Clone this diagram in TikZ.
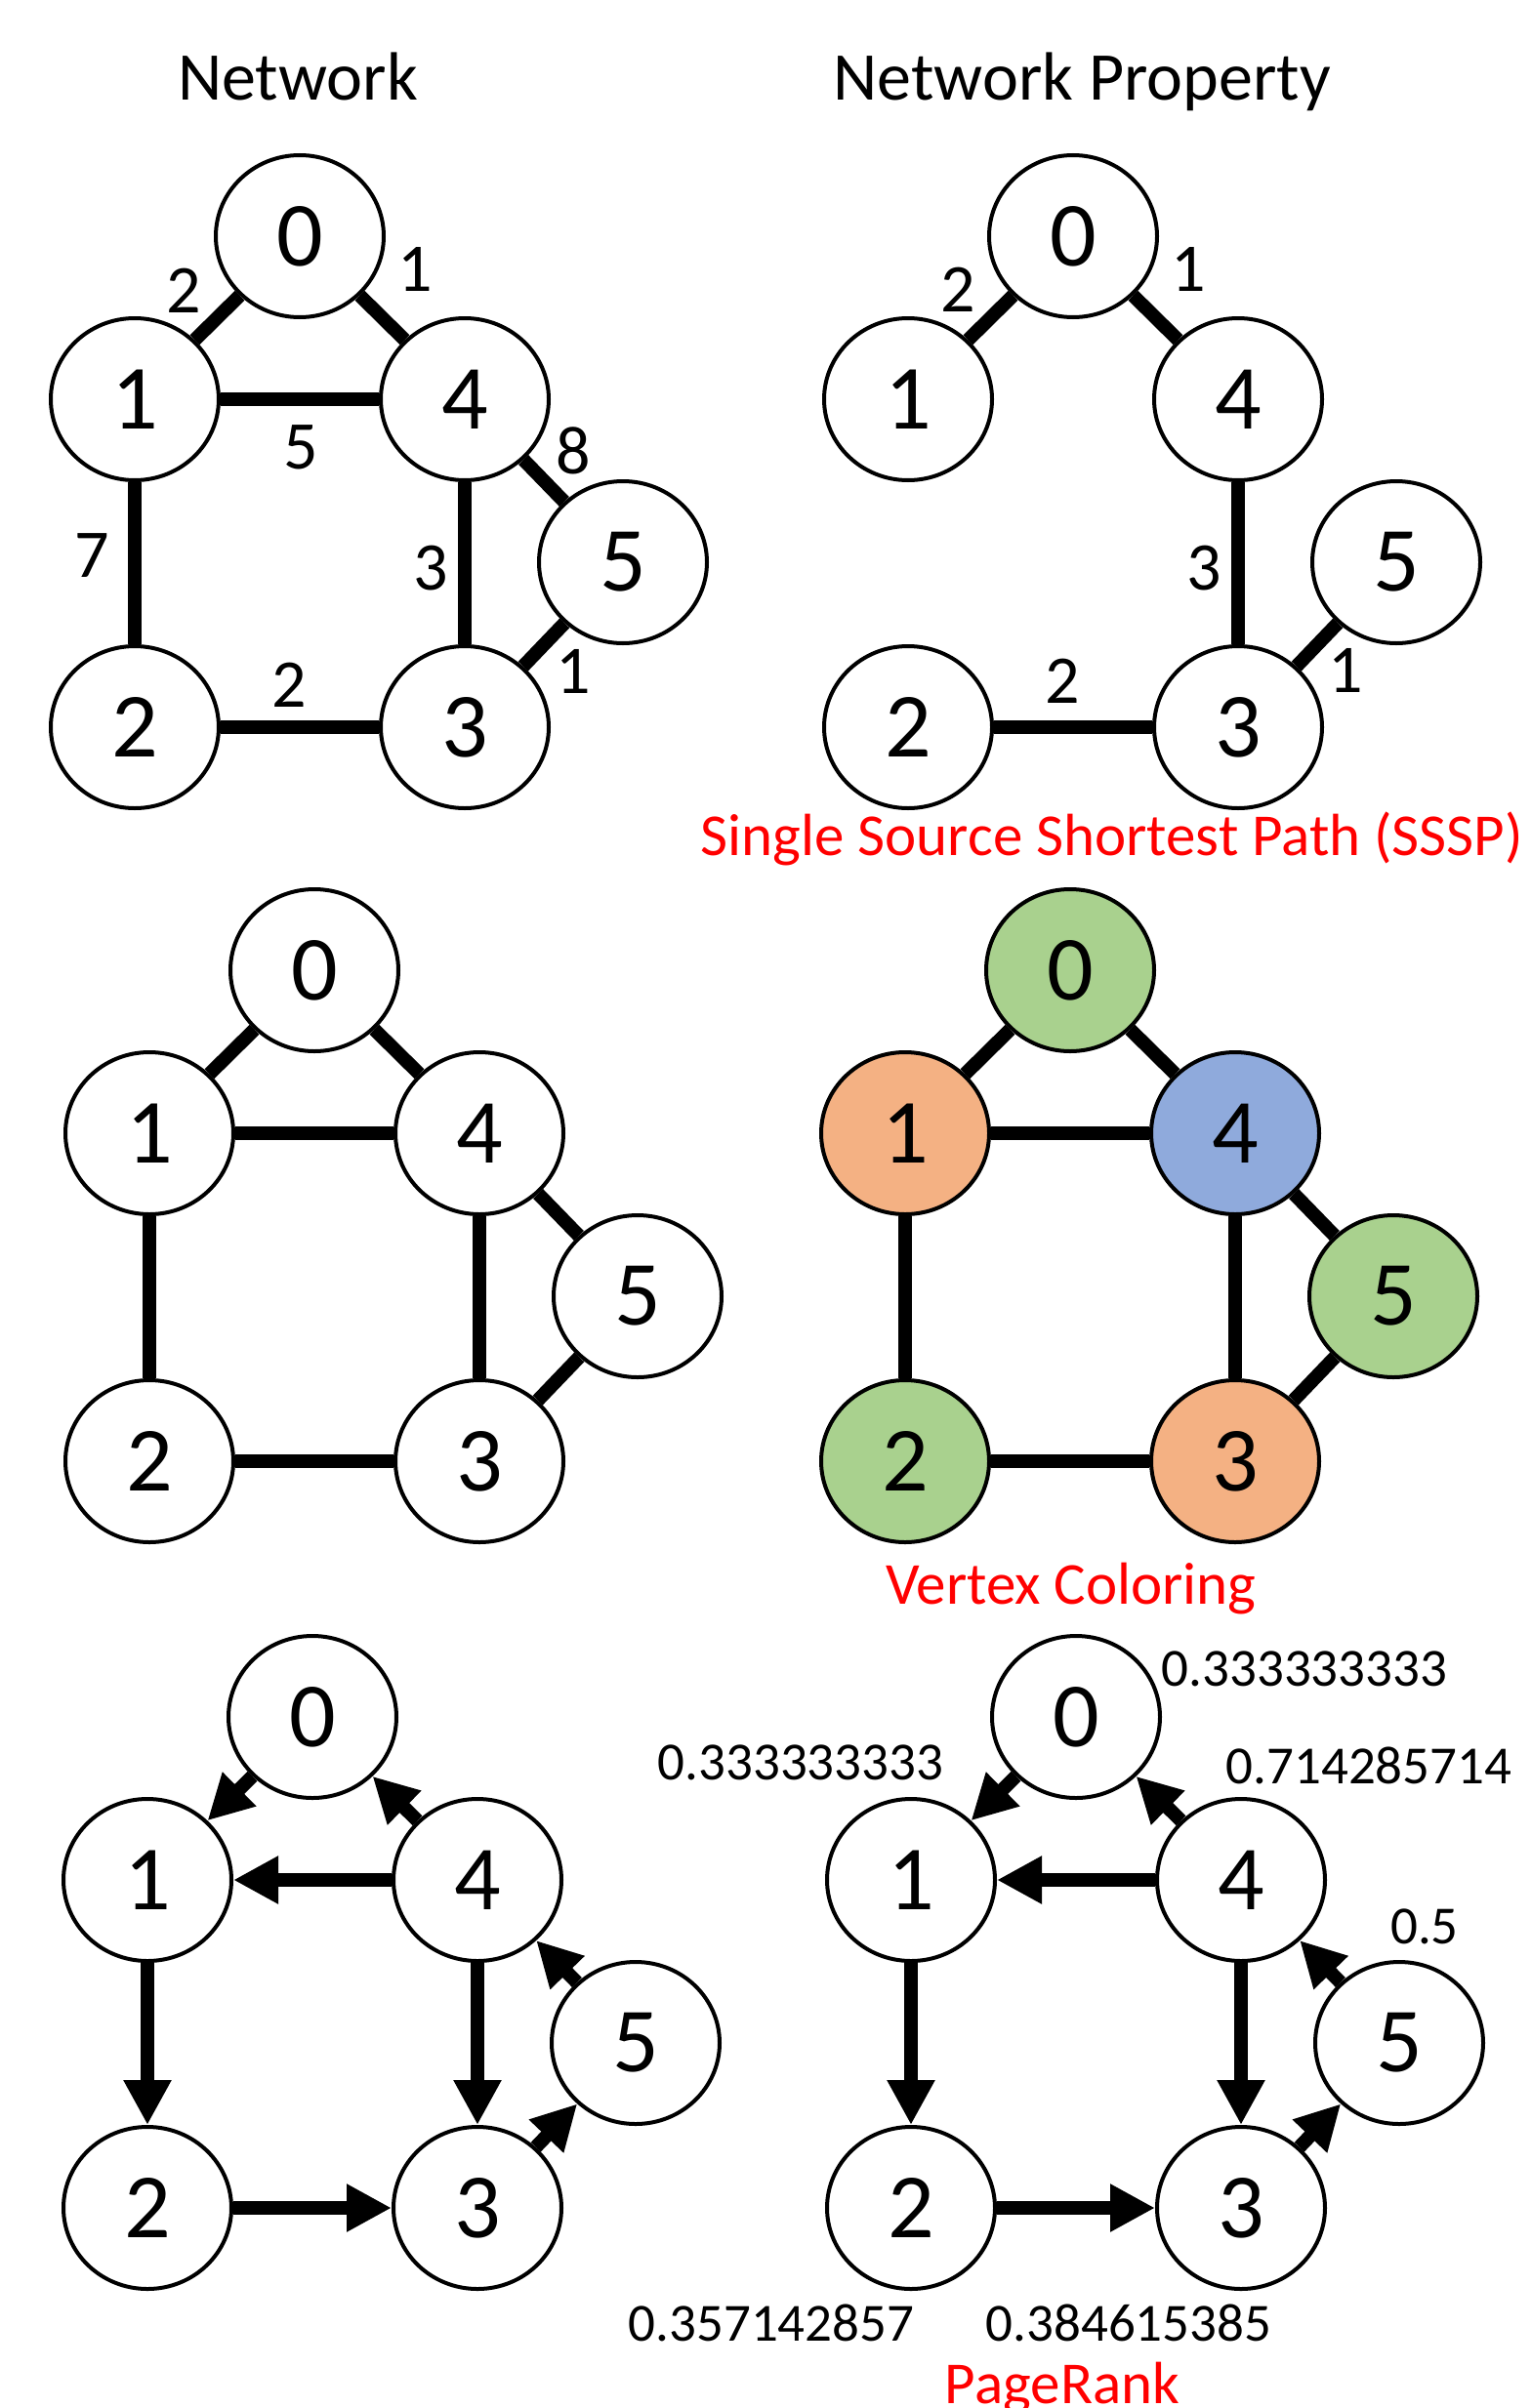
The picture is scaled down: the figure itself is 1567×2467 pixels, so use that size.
\documentclass[tikz,border=0pt]{standalone}
\usepackage{fontspec}
\setmainfont{Carlito}
\usetikzlibrary{shapes.geometric, arrows.meta, backgrounds}

\definecolor{vgreen}{HTML}{A9D18E}
\definecolor{vorange}{HTML}{F4B183}
\definecolor{vblue}{HTML}{8FAADC}
\definecolor{capred}{HTML}{FF0000}

\begin{document}
\begin{tikzpicture}[x=1pt, y=-1pt,
  vtx/.style={ellipse, draw=black, line width=4pt, fill=white,
    minimum width=172pt, minimum height=166pt, inner sep=0pt,
    font=\fontsize{94}{94}\selectfont},
  link/.style={line width=14pt},
  arc/.style={line width=14pt, -{Triangle[length=46pt, width=46pt]}},
  weight/.style={anchor=base, inner sep=0pt, font=\fontsize{70}{70}\selectfont},
  heading/.style={anchor=base, inner sep=0pt, font=\fontsize{70}{70}\selectfont},
  caption/.style={anchor=base, inner sep=0pt, text=capred, font=\fontsize{61}{61}\selectfont},
  rank/.style={anchor=base, inner sep=0pt, font=\fontsize{55}{55}\selectfont}
]
\clip (0,0) rectangle (1567,2467);
\begin{scope}[on background layer]
  \fill[white] (0,0) rectangle (1567,2467);
\end{scope}

% headings
\node[heading] (h1) at (305,103) {Network};
\node[heading] (h2) at (1108,103) {Network Property};

% ---- weighted network ----
\foreach \n/\dx/\dy in {0/169/0, 1/0/167, 4/338/167, 5/500/334, 2/0/503, 3/338/503}
  \node[vtx] (a\n) at (138+\dx, 242+\dy) {\n};
\begin{scope}[on background layer]
  \draw[link] (a0) -- (a1);
  \draw[link] (a0) -- (a4);
  \draw[link] (a1) -- (a4);
  \draw[link] (a1) -- (a2);
  \draw[link] (a4) -- (a3);
  \draw[link] (a4) -- (a5);
  \draw[link] (a5) -- (a3);
  \draw[link] (a2) -- (a3);
\end{scope}
\node[weight] (wa01) at (188,320) {2};
\node[weight] (wa04) at (425,298) {1};
\node[weight] (wa14) at (308,480) {5};
\node[weight] (wa45) at (587,485) {8};
\node[weight] (wa12) at (94,591) {7};
\node[weight] (wa43) at (441,604) {3};
\node[weight] (wa23) at (296,724) {2};
\node[weight] (wa53) at (587,710) {1};

% ---- shortest path tree ----
\foreach \n/\dx/\dy in {0/169/0, 1/0/167, 4/338/167, 5/500/334, 2/0/503, 3/338/503}
  \node[vtx] (b\n) at (930+\dx, 242+\dy) {\n};
\begin{scope}[on background layer]
  \draw[link] (b0) -- (b1);
  \draw[link] (b0) -- (b4);
  \draw[link] (b4) -- (b3);
  \draw[link] (b5) -- (b3);
  \draw[link] (b2) -- (b3);
\end{scope}
\node[weight] (wb01) at (981,319) {2};
\node[weight] (wb04) at (1217,298) {1};
\node[weight] (wb43) at (1233,604) {3};
\node[weight] (wb23) at (1088,720) {2};
\node[weight] (wb53) at (1378,709) {1};
\node[caption] (cap1) at (1139,876) {Single Source Shortest Path (SSSP)};

% ---- unweighted network ----
\foreach \n/\dx/\dy in {0/169/0, 1/0/167, 4/338/167, 5/500/334, 2/0/503, 3/338/503}
  \node[vtx] (c\n) at (153+\dx, 994+\dy) {\n};
\begin{scope}[on background layer]
  \draw[link] (c0) -- (c1);
  \draw[link] (c0) -- (c4);
  \draw[link] (c1) -- (c4);
  \draw[link] (c1) -- (c2);
  \draw[link] (c4) -- (c3);
  \draw[link] (c4) -- (c5);
  \draw[link] (c5) -- (c3);
  \draw[link] (c2) -- (c3);
\end{scope}

% ---- vertex coloring ----
\foreach \n/\dx/\dy/\c in {0/169/0/vgreen, 1/0/167/vorange, 4/338/167/vblue,
                           5/500/334/vgreen, 2/0/503/vgreen, 3/338/503/vorange}
  \node[vtx, fill=\c] (d\n) at (927+\dx, 994+\dy) {\n};
\begin{scope}[on background layer]
  \draw[link] (d0) -- (d1);
  \draw[link] (d0) -- (d4);
  \draw[link] (d1) -- (d4);
  \draw[link] (d1) -- (d2);
  \draw[link] (d4) -- (d3);
  \draw[link] (d4) -- (d5);
  \draw[link] (d5) -- (d3);
  \draw[link] (d2) -- (d3);
\end{scope}
\node[caption] (cap2) at (1097,1643) {Vertex Coloring};

% ---- directed network ----
\foreach \n/\dx/\dy in {0/169/0, 1/0/167, 4/338/167, 5/500/334, 2/0/503, 3/338/503}
  \node[vtx] (e\n) at (151+\dx, 1759+\dy) {\n};
\begin{scope}[on background layer]
  \draw[arc] (e0) -- (e1);
  \draw[arc] (e4) -- (e0);
  \draw[arc] (e4) -- (e1);
  \draw[arc] (e1) -- (e2);
  \draw[arc] (e4) -- (e3);
  \draw[arc] (e2) -- (e3);
  \draw[arc] (e3) -- (e5);
  \draw[arc] (e5) -- (e4);
\end{scope}

% ---- pagerank ----
\foreach \n/\dx/\dy in {0/169/0, 1/0/167, 4/338/167, 5/500/334, 2/0/503, 3/338/503}
  \node[vtx] (f\n) at (933+\dx, 1759+\dy) {\n};
\begin{scope}[on background layer]
  \draw[arc] (f0) -- (f1);
  \draw[arc] (f4) -- (f0);
  \draw[arc] (f4) -- (f1);
  \draw[arc] (f1) -- (f2);
  \draw[arc] (f4) -- (f3);
  \draw[arc] (f2) -- (f3);
  \draw[arc] (f3) -- (f5);
  \draw[arc] (f5) -- (f4);
\end{scope}
\node[rank] (r0) at (1336,1727) {0.333333333};
\node[rank] (r1) at (820,1823) {0.333333333};
\node[rank] (r4) at (1402,1827) {0.714285714};
\node[rank] (r5) at (1459,1991) {0.5};
\node[rank] (r2) at (790,2398) {0.357142857};
\node[rank] (r3) at (1156,2398) {0.384615385};
\node[caption] (cap3) at (1088,2462) {PageRank};
\end{tikzpicture}
\end{document}
